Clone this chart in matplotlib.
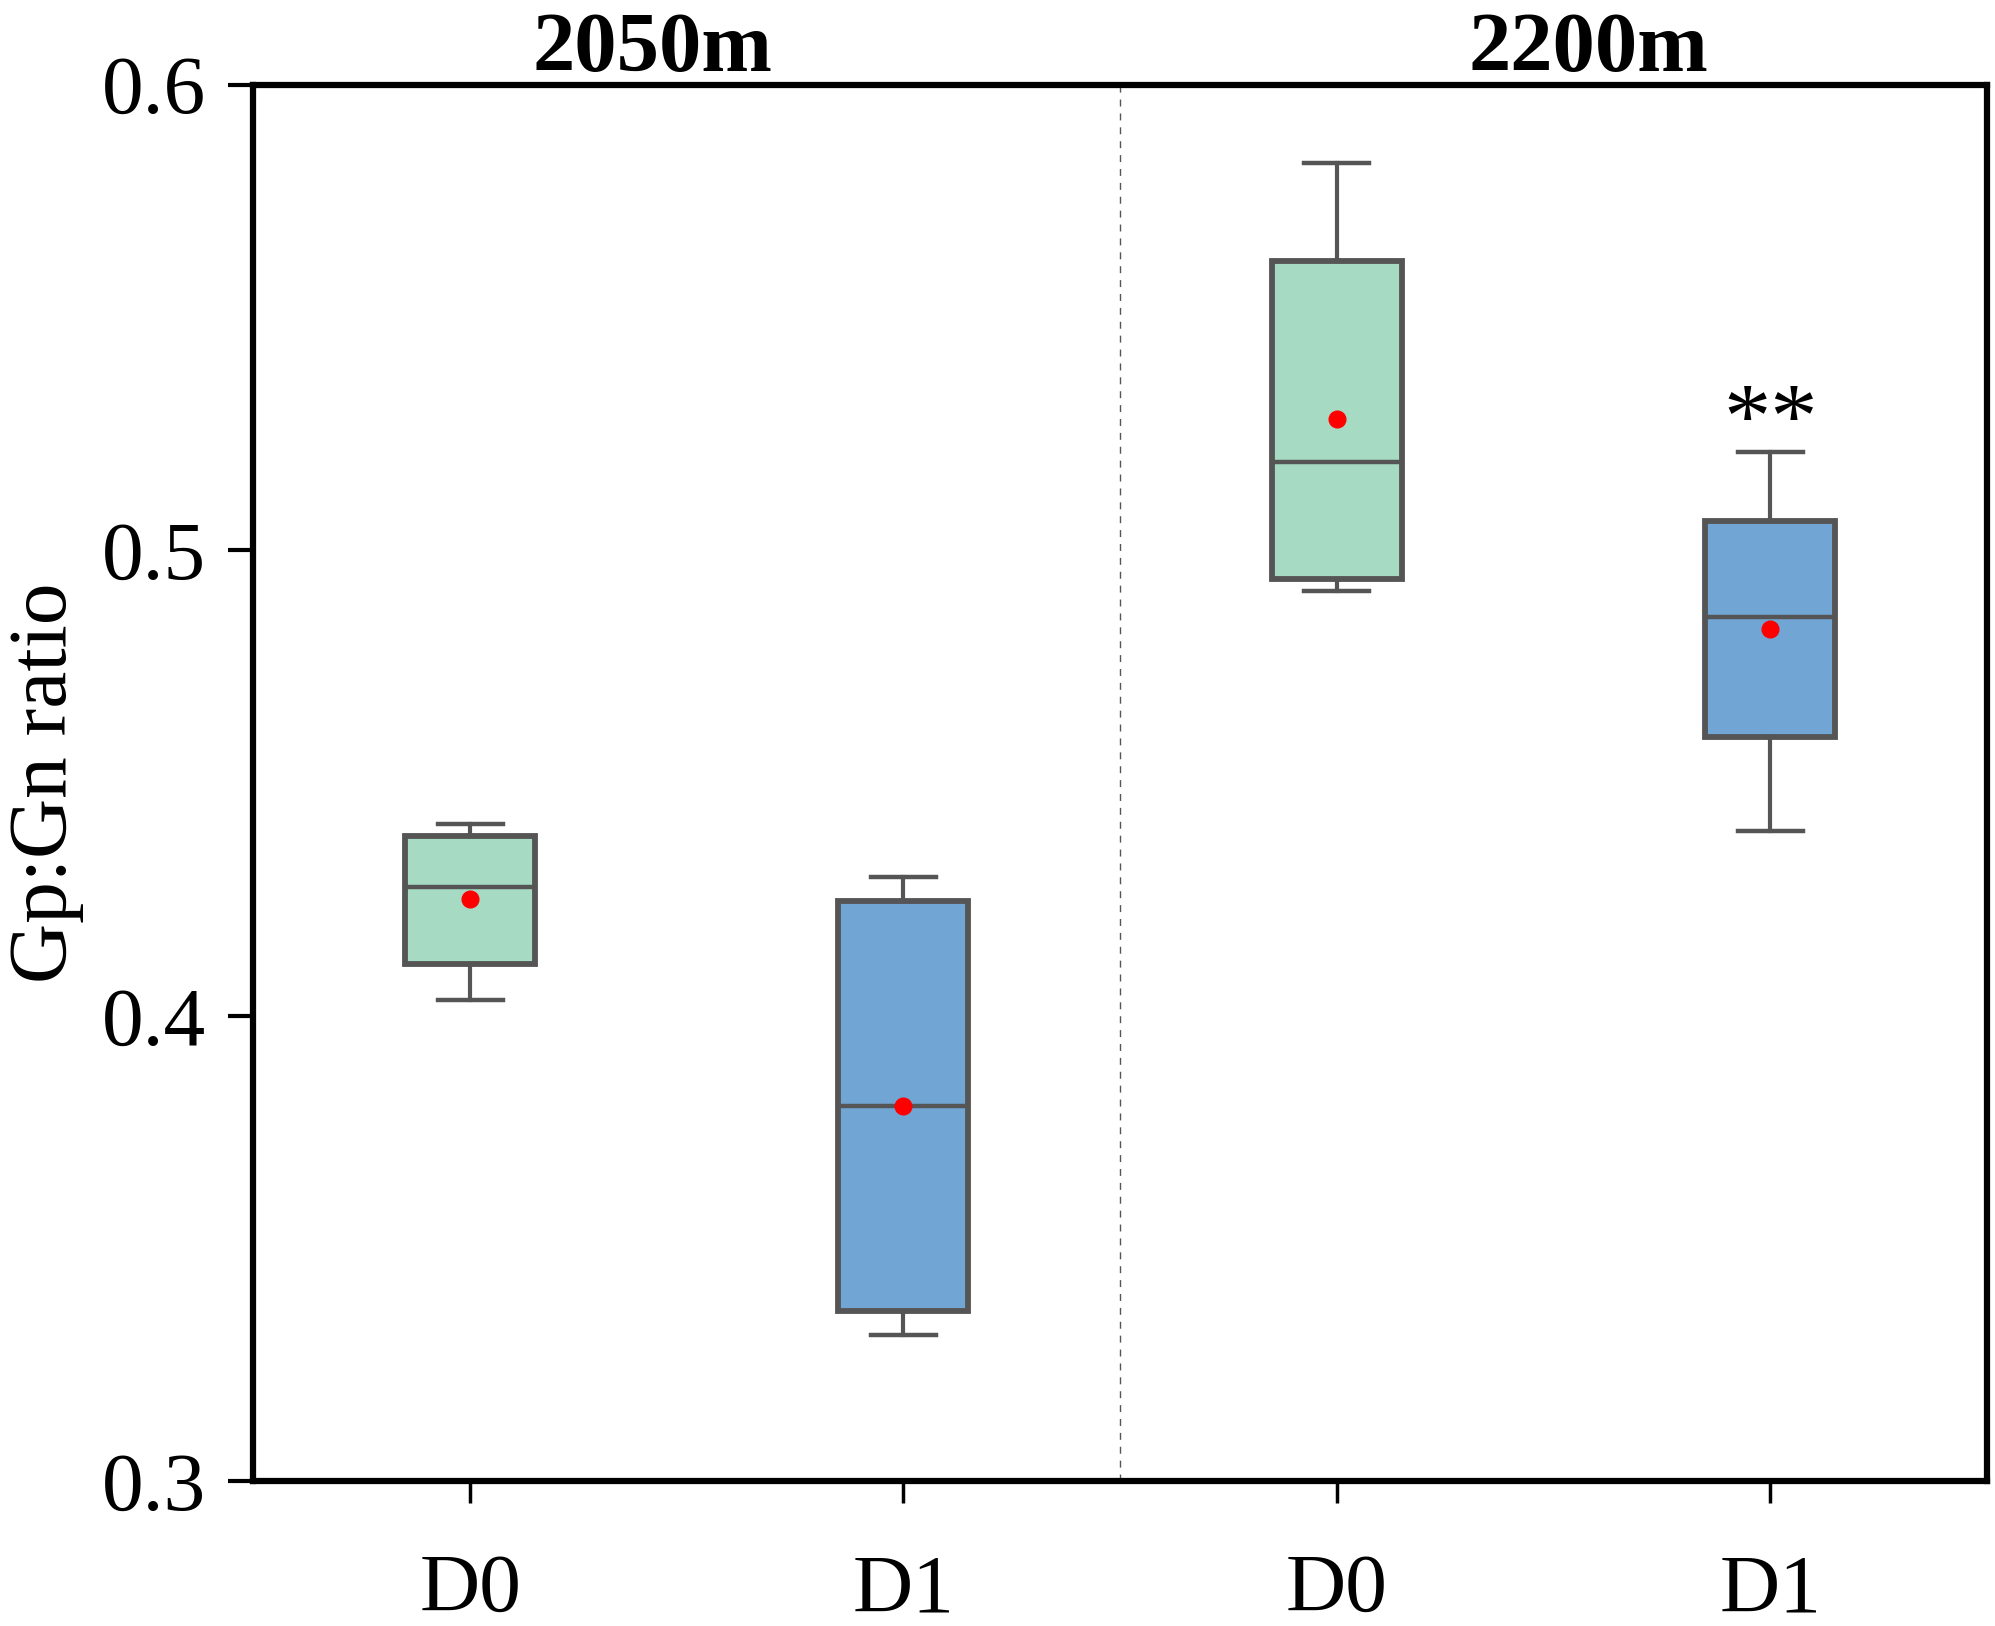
import numpy as np
import matplotlib.pyplot as plt

# Valores
sites = ['2050m', '2200m']
site_x = [0.42, 2.58]
treatments = ['D0', 'D1', 'D0', 'D1']
whislo = [0.4033, 0.3314, 0.4912, 0.4397]
q1 = [0.4112, 0.3366, 0.4939, 0.4598]
med = [0.4276, 0.3806, 0.5189, 0.4856]
q3 = [0.4385, 0.4246, 0.5621, 0.5062]
whishi = [0.4411, 0.4298, 0.5832, 0.5211]
means = [0.4251, 0.3806, 0.5282, 0.4831]
signif = ['', '', '', '**']

colors = ['#a7dac3', '#71a5d4', '#a7dac3', '#71a5d4']
edge = '#555555'

plt.rcParams['font.family'] = ['Liberation Serif', 'DejaVu Serif']

fig = plt.figure(figsize=(19.95, 16.26), dpi=100)
ax = fig.add_axes([0.127, 0.089, 0.869, 0.859])

stats = []
for i in range(len(treatments)):
    stats.append({'whislo': whislo[i], 'q1': q1[i], 'med': med[i],
                  'q3': q3[i], 'whishi': whishi[i], 'mean': means[i], 'fliers': []})

pos = np.arange(len(treatments))
bp = ax.bxp(stats, positions=pos, widths=0.3, patch_artist=True, showmeans=True,
            capwidths=0.15,
            boxprops=dict(edgecolor=edge, linewidth=4.2),
            whiskerprops=dict(color=edge, linewidth=3.0),
            capprops=dict(color=edge, linewidth=3.2),
            medianprops=dict(color=edge, linewidth=3.2),
            meanprops=dict(marker='o', markerfacecolor='red', markeredgecolor='red',
                           markersize=12))
for patch, c in zip(bp['boxes'], colors):
    patch.set_facecolor(c)

# Division entre sitios
ax.axvline(1.5, color='#555555', linestyle=(0, (5, 5)), linewidth=1.0)

for i, s in enumerate(signif):
    if s:
        ax.text(pos[i], whishi[i] + 0.001, s, ha='center', va='baseline', fontsize=68)

for j, name in enumerate(sites):
    ax.annotate(name, xy=(site_x[j], 1.0), xycoords=('data', 'axes fraction'),
                xytext=(0, 10), textcoords='offset points',
                ha='center', va='baseline', fontsize=61, fontweight='bold')

ax.set_xlim(-0.5, 3.5)
ax.set_ylim(0.3, 0.6)
ax.set_yticks([0.3, 0.4, 0.5, 0.6])
ax.set_yticklabels(['0.3', '0.4', '0.5', '0.6'])
ax.set_xticks(pos)
ax.set_xticklabels(treatments)
ax.tick_params(axis='y', length=18, width=3, pad=16, labelsize=60)
ax.tick_params(axis='x', length=16, width=2.5, pad=36, labelsize=60)
ax.set_ylabel('Gp:Gn ratio', fontsize=60, labelpad=13)
for sp in ax.spines.values():
    sp.set_linewidth(4.5)

fig.savefig('out.png', dpi=100)
